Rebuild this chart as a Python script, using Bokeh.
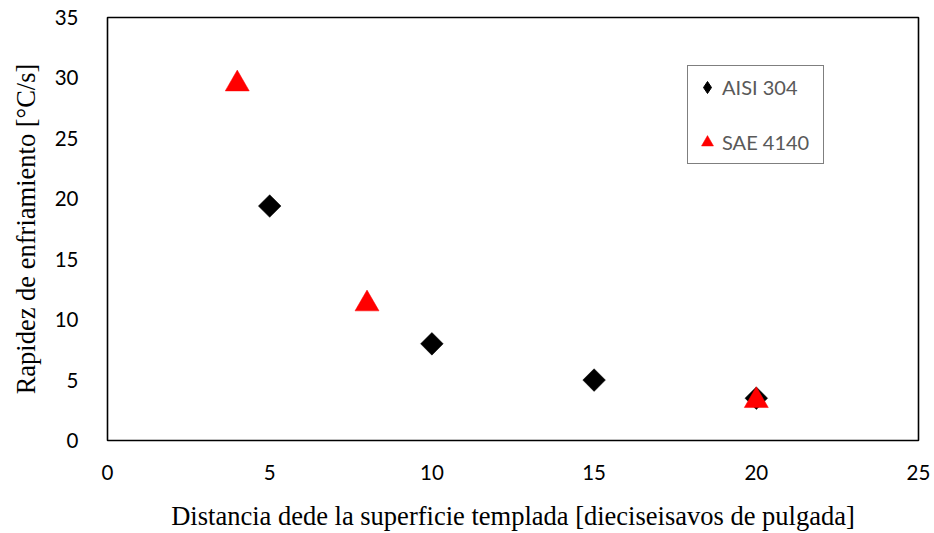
import numpy as np
from bokeh.plotting import figure
from bokeh.models import Range1d, FixedTicker, Legend, LegendItem
from bokeh.embed import file_html
from bokeh.resources import INLINE

# data
aisi_x = [5, 10, 15, 20]
aisi_y = [19.4, 8.0, 5.0, 3.5]
sae_x = [4, 8, 20]
sae_y = [29.5, 11.3, 3.3]
x_ticks = [0, 5, 10, 15, 20, 25]
y_ticks = [0, 5, 10, 15, 20, 25, 30, 35]

p = figure(width=934, height=533, output_backend="svg", toolbar_location=None,
           x_range=Range1d(0, 25), y_range=Range1d(0, 35),
           min_border_left=107, min_border_right=16, min_border_top=17, min_border_bottom=93)

p.xgrid.visible = False
p.ygrid.visible = False
p.outline_line_color = "black"
p.outline_line_width = 1.6
p.background_fill_color = "white"
p.border_fill_color = "white"

for ax in (p.xaxis[0], p.yaxis[0]):
    ax.axis_line_color = None
    ax.major_tick_line_color = None
    ax.minor_tick_line_color = None
    ax.major_label_text_font = "Lato"
    ax.major_label_text_font_size = "20.5px"
    ax.major_label_text_color = "black"
    ax.axis_label_text_font = "Liberation Serif"
    ax.axis_label_text_font_size = "26.5px"
    ax.axis_label_text_font_style = "normal"
    ax.axis_label_text_color = "black"

p.xaxis.ticker = FixedTicker(ticks=x_ticks)
p.yaxis.ticker = FixedTicker(ticks=y_ticks)
p.xaxis.axis_label = "Distancia dede la superficie templada [dieciseisavos de pulgada]"
p.yaxis.axis_label = "Rapidez de enfriamiento [°C/s]"
p.xaxis.major_label_standoff = 18
p.xaxis.axis_label_standoff = 18
p.yaxis.major_label_standoff = 23
p.yaxis.axis_label_standoff = 11

r1 = p.scatter(aisi_x, aisi_y, marker="square", size=16, angle=np.pi / 4,
               fill_color="black", line_color="black", line_width=0.5)
r2 = p.scatter(sae_x, sae_y, marker="triangle", size=24,
               fill_color="red", line_color="red", line_width=0.5)
# legend-only twin of the AISI series (a diamond glyph in the key)
r1_key = p.scatter(aisi_x, aisi_y, marker="diamond", size=16,
                   fill_color="black", line_color="black", visible=False)

legend = Legend(items=[LegendItem(label="AISI 304", renderers=[r1_key]),
                       LegendItem(label="SAE 4140", renderers=[r2])],
                location=(580, 276))
legend.click_policy = "none"
legend.border_line_color = "black"
legend.border_line_width = 1.6
legend.background_fill_alpha = 1
legend.padding = 4
legend.margin = 0
legend.spacing = 21
legend.glyph_width = 30
legend.glyph_height = 34
legend.label_height = 34
legend.label_width = 97
legend.label_standoff = 0
legend.label_text_font = "Lato"
legend.label_text_font_size = "20px"
legend.label_text_color = "#595959"
p.add_layout(legend, "center")

open("out.html", "w").write(file_html(p, INLINE))
